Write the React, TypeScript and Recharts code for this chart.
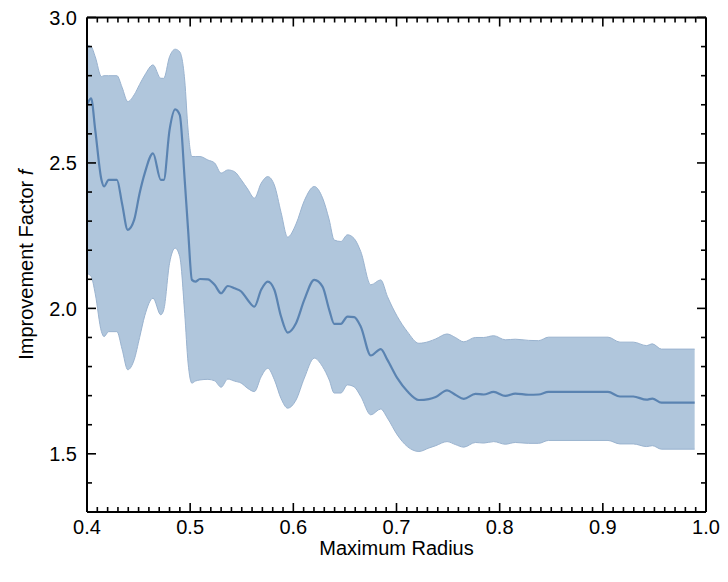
import React from 'react';
import {
  ComposedChart,
  Area,
  Line,
  XAxis,
  YAxis,
  ReferenceLine,
} from 'recharts';

// sampled radius values (x)
const radius = [
  0.4, 0.404, 0.408, 0.414, 0.4165, 0.421, 0.429, 0.434, 0.4395, 0.4457,
  0.451, 0.456, 0.464, 0.4715, 0.4744, 0.48, 0.4855, 0.4899, 0.4947, 0.498,
  0.5017, 0.505, 0.5095, 0.5172, 0.5237, 0.53, 0.5365, 0.543, 0.5495, 0.5558,
  0.5623, 0.5688, 0.5752, 0.5816, 0.5881, 0.5945, 0.6026, 0.6106, 0.6203, 0.6283,
  0.6348, 0.6396, 0.6461, 0.6525, 0.659, 0.6654, 0.6751, 0.6847, 0.6912, 0.7008,
  0.7105, 0.7217, 0.7314, 0.738, 0.749, 0.757, 0.7652, 0.7765, 0.7845, 0.7942,
  0.8055, 0.8152, 0.828, 0.8377, 0.8473, 0.905, 0.9166, 0.9295, 0.9423, 0.948,
  0.9568, 0.989,
];

const meanF = [
  2.7, 2.722, 2.613, 2.442, 2.419, 2.442, 2.442, 2.36, 2.27, 2.304,
  2.396, 2.465, 2.533, 2.442, 2.442, 2.613, 2.684, 2.665, 2.442, 2.27,
  2.098, 2.092, 2.101, 2.1, 2.081, 2.052, 2.077, 2.069, 2.058, 2.029,
  2.006, 2.064, 2.092, 2.064, 1.972, 1.917, 1.949, 2.029, 2.098, 2.075,
  1.995, 1.947, 1.947, 1.972, 1.97, 1.937, 1.838, 1.86, 1.823, 1.76,
  1.715, 1.685, 1.688, 1.695, 1.718, 1.703, 1.689, 1.706, 1.704, 1.713,
  1.699, 1.707, 1.703, 1.704, 1.713, 1.713, 1.697, 1.697, 1.686, 1.69,
  1.676, 1.676,
];

const upperF = [
  2.905, 2.9, 2.865, 2.797, 2.8, 2.8, 2.8, 2.76, 2.711, 2.734,
  2.77, 2.802, 2.837, 2.791, 2.791, 2.865, 2.891, 2.882, 2.785, 2.613,
  2.522, 2.522, 2.522, 2.51, 2.5, 2.465, 2.476, 2.47, 2.442, 2.41,
  2.379, 2.43, 2.453, 2.424, 2.33, 2.245, 2.29, 2.37, 2.419, 2.38,
  2.304, 2.235, 2.23, 2.253, 2.24, 2.195, 2.081, 2.098, 2.041, 1.972,
  1.92, 1.88, 1.886, 1.895, 1.912, 1.9, 1.885, 1.9, 1.9, 1.906,
  1.892, 1.894, 1.89, 1.889, 1.901, 1.901, 1.884, 1.884, 1.872, 1.878,
  1.86, 1.86,
];

const lowerF = [
  2.12, 2.11, 2.05, 1.92, 1.903, 1.92, 1.92, 1.86, 1.789, 1.823,
  1.9, 1.975, 2.035, 1.978, 1.995, 2.155, 2.207, 2.178, 1.983, 1.812,
  1.743, 1.75, 1.754, 1.756, 1.751, 1.729, 1.757, 1.75, 1.743, 1.725,
  1.714, 1.765, 1.794, 1.755, 1.69, 1.657, 1.685, 1.76, 1.829, 1.8,
  1.754, 1.709, 1.709, 1.737, 1.73, 1.697, 1.634, 1.654, 1.623, 1.565,
  1.525, 1.508, 1.52, 1.528, 1.542, 1.532, 1.523, 1.539, 1.537, 1.542,
  1.533, 1.539, 1.536, 1.536, 1.546, 1.546, 1.534, 1.534, 1.525, 1.528,
  1.516, 1.516,
];

const X_MAJOR = [0.4, 0.5, 0.6, 0.7, 0.8, 0.9, 1.0];
const Y_MAJOR = [1.5, 2.0, 2.5, 3.0];

const xTicks: number[] = [];
for (let i = 40; i <= 100; i++) xTicks.push(i / 100);
const yTicks: number[] = [];
for (let i = 13; i <= 30; i++) yTicks.push(i / 10);

const data = radius.map((r, i) => ({
  r,
  mean: meanF[i],
  band: [lowerF[i], upperF[i]],
}));

const W = 720;
const H = 574;
const MARGIN = { top: 9.5, right: 22, bottom: 40, left: 19 };
const Y_AXIS_W = 60;
const X_AXIS_H = 30;
const PLOT_TOP = MARGIN.top;
const PLOT_RIGHT = W - MARGIN.right;

const FONT = '"Liberation Sans", Arial, Helvetica, sans-serif';
const MAJOR_LEN = 9;
const MINOR_LEN = 5;

const isMajor = (v: number, majors: number[]) => majors.some((m) => Math.abs(m - v) < 1e-6);

const XTick = (props: any) => {
  const { x, y, payload } = props;
  const major = isMajor(payload.value, X_MAJOR);
  const len = major ? MAJOR_LEN : MINOR_LEN;
  return (
    <g>
      <line x1={x} x2={x} y1={y} y2={y - len} stroke="#000" strokeWidth={1.6} />
      <line x1={x} x2={x} y1={PLOT_TOP} y2={PLOT_TOP + len} stroke="#000" strokeWidth={1.6} />
      {major && (
        <text x={x} y={y + 22} textAnchor="middle" fontSize={20} fontFamily={FONT} fill="#000">
          {payload.value.toFixed(1)}
        </text>
      )}
    </g>
  );
};

const YTick = (props: any) => {
  const { x, y, payload } = props;
  const major = isMajor(payload.value, Y_MAJOR);
  const len = major ? MAJOR_LEN : MINOR_LEN;
  return (
    <g>
      <line x1={x} x2={x + len} y1={y} y2={y} stroke="#000" strokeWidth={1.6} />
      <line x1={PLOT_RIGHT} x2={PLOT_RIGHT - len} y1={y} y2={y} stroke="#000" strokeWidth={1.6} />
      {major && (
        <text x={x - 10} y={y} dy="0.36em" textAnchor="end" fontSize={20} fontFamily={FONT} fill="#000">
          {payload.value.toFixed(1)}
        </text>
      )}
    </g>
  );
};

const XLabel = (props: any) => {
  const { viewBox } = props;
  const cx = viewBox.x + viewBox.width / 2;
  return (
    <text x={cx} y={viewBox.y + 43} textAnchor="middle" fontSize={20} fontFamily={FONT} fill="#000">
      Maximum Radius
    </text>
  );
};

const YLabel = (props: any) => {
  const { viewBox } = props;
  const cy = viewBox.y + viewBox.height / 2;
  const cx = 18;
  return (
    <text
      x={cx}
      y={cy}
      transform={`rotate(-90, ${cx}, ${cy})`}
      textAnchor="middle"
      dominantBaseline="central"
      fontSize={20}
      fontFamily={FONT}
      fill="#000"
    >
      Improvement Factor <tspan fontStyle="italic">f</tspan>
    </text>
  );
};

export default function App() {
  return (
    <div style={{ width: W, height: H, background: '#fff' }}>
      <ComposedChart width={W} height={H} data={data} margin={MARGIN}>
        <XAxis
          dataKey="r"
          type="number"
          domain={[0.4, 1.0]}
          ticks={xTicks}
          interval={0}
          tickSize={0}
          tickMargin={0}
          tickLine={false}
          tick={<XTick />}
          height={X_AXIS_H}
          axisLine={{ stroke: '#000', strokeWidth: 2 }}
          allowDataOverflow
          label={<XLabel />}
        />
        <YAxis
          type="number"
          domain={[1.3, 3.0]}
          ticks={yTicks}
          interval={0}
          tickSize={0}
          tickMargin={0}
          tickLine={false}
          tick={<YTick />}
          width={Y_AXIS_W}
          axisLine={{ stroke: '#000', strokeWidth: 2 }}
          allowDataOverflow
          label={<YLabel />}
        />
        <Area
          type="monotone"
          dataKey="band"
          stroke="#9ab3cf"
          strokeWidth={1}
          fill="#b0c6dc"
          fillOpacity={1}
          isAnimationActive={false}
        />
        <Line
          type="monotone"
          dataKey="mean"
          stroke="#5a83b1"
          strokeWidth={2.2}
          dot={false}
          isAnimationActive={false}
        />
        <ReferenceLine y={3.0} stroke="#000" strokeWidth={2} />
        <ReferenceLine x={1.0} stroke="#000" strokeWidth={2} />
      </ComposedChart>
    </div>
  );
}
